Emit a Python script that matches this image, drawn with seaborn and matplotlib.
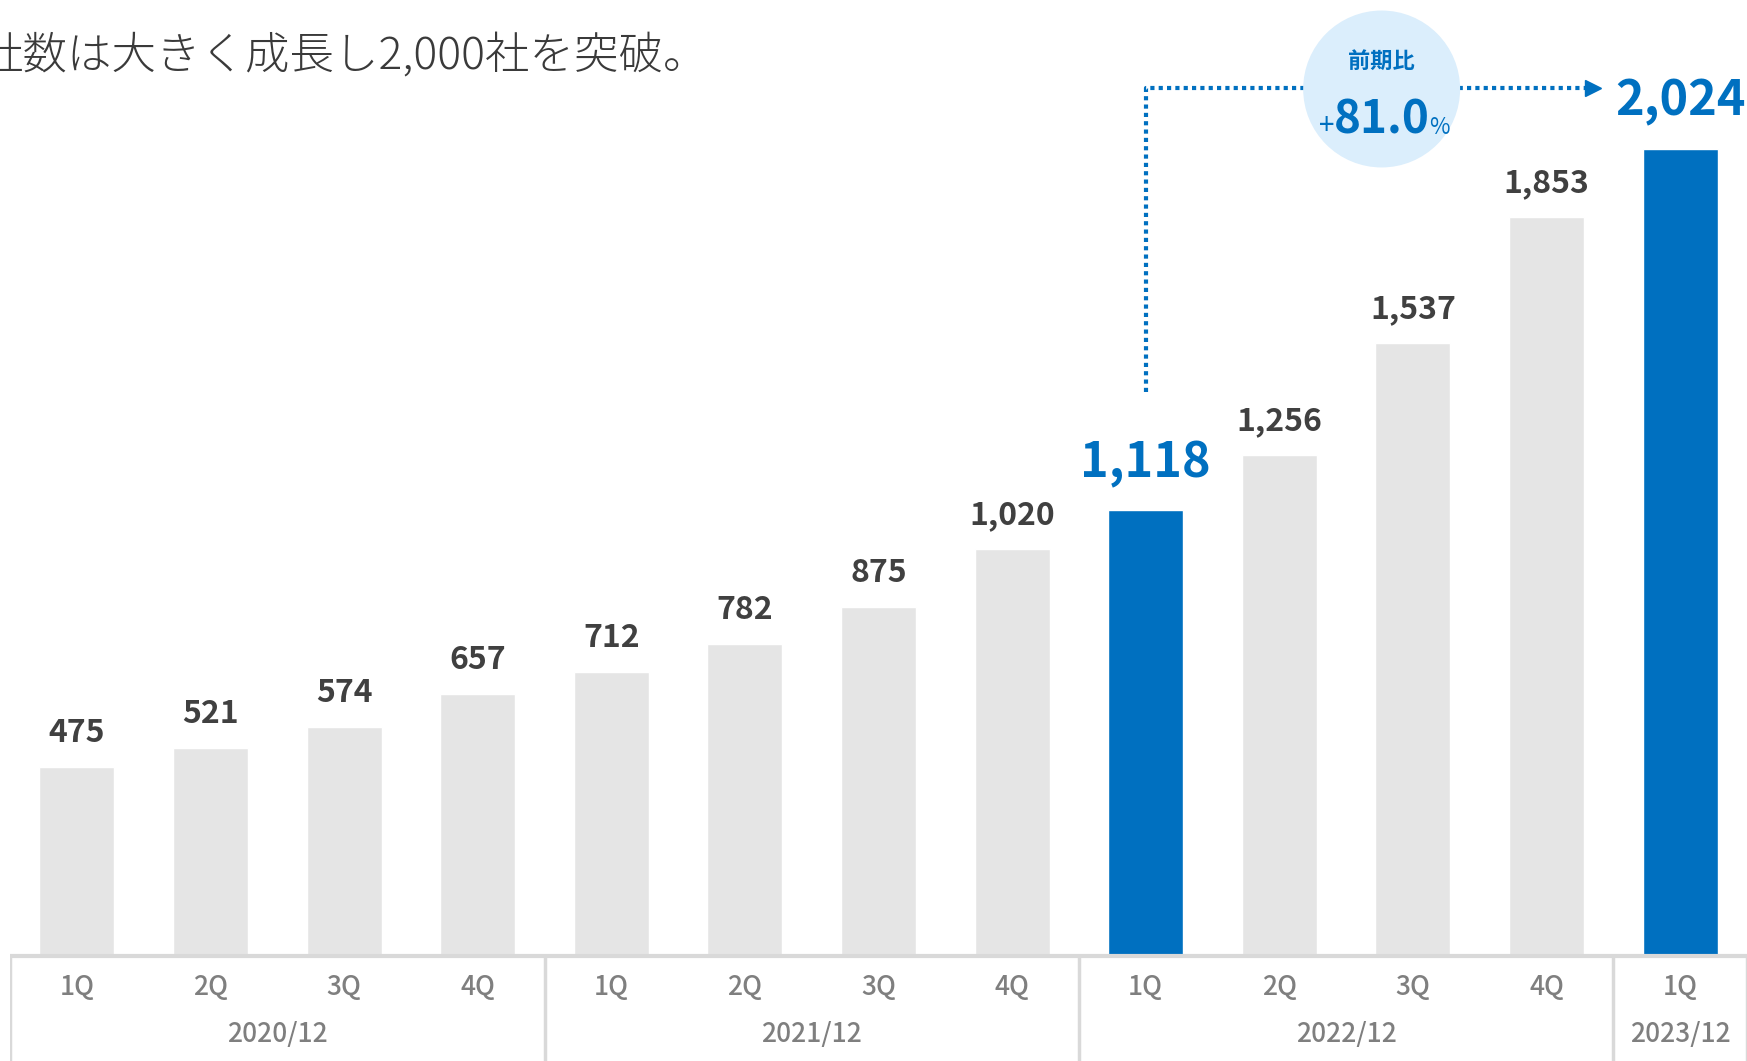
import matplotlib
matplotlib.use("Agg")
import matplotlib.pyplot as plt
import seaborn as sns
import pandas as pd

# data
years = ['2020/12'] * 4 + ['2021/12'] * 4 + ['2022/12'] * 4 + ['2023/12']
quarters = ['1Q', '2Q', '3Q', '4Q'] * 3 + ['1Q']
counts = [475, 521, 574, 657, 712, 782, 875, 1020, 1118, 1256, 1537, 1853, 2024]
highlight = [False] * 8 + [True] + [False] * 3 + [True]
title_text = '社数は大きく成長し2,000社を突破。'
growth_label = '前期比'
growth_value = '81.0'

BLUE = '#0070c0'
GRAY_BAR = '#e5e5e5'
LINE_GRAY = '#d9d9d9'

df = pd.DataFrame({'year': years, 'quarter': quarters, 'count': counts, 'hl': highlight})
df['period'] = df['year'] + ' ' + df['quarter']
palette = {p: (BLUE if h else GRAY_BAR) for p, h in zip(df['period'], df['hl'])}

sns.set_style('white')
plt.rcParams['font.family'] = ['Noto Sans CJK JP', 'DejaVu Sans']

fig = plt.figure(figsize=(17.47, 10.61), dpi=100)
W, H = 1747, 1061
ax = fig.add_axes([10.1 / W, 0, 1736.8 / W, 1])

sns.barplot(data=df, x='period', y='count', hue='period', palette=palette,
            order=list(df['period']), width=0.56, saturation=1, legend=False, ax=ax)

n = len(df)
ax.set_xlim(-0.5, n - 0.5)
ax.set_ylim(-263.4, 2397.8)
ax.axis('off')

# value labels
for i, row in df.iterrows():
    if row['hl']:
        ax.annotate(f"{row['count']:,}", (i, row['count']), xytext=(0, 24), textcoords='offset points',
                    ha='center', va='baseline', fontsize=35, fontweight='bold', color=BLUE)
    else:
        ax.annotate(f"{row['count']:,}", (i, row['count']), xytext=(0, 18), textcoords='offset points',
                    ha='center', va='baseline', fontsize=23, fontweight='bold', color='#404040')

# category axis frame (two levels)
bottom = ax.get_ylim()[0]
ax.axhline(0, color=LINE_GRAY, lw=3, zorder=3)
starts = [i for i in range(n) if i == 0 or years[i] != years[i - 1]]
for s in starts:
    ax.vlines(s - 0.5, bottom, 0, color=LINE_GRAY, lw=2.5, zorder=3)
ax.vlines(n - 0.5, bottom, 0, color=LINE_GRAY, lw=2.5, zorder=3)

for i, q in enumerate(quarters):
    ax.text(i, -80, q, ha='center', va='center', fontsize=19, fontweight='medium', color='#7f7f7f')
for k, s in enumerate(starts):
    e = starts[k + 1] if k + 1 < len(starts) else n
    ax.text((s + e - 1) / 2, -198, years[s], ha='center', va='center', fontsize=19,
            fontweight='medium', color='#7f7f7f')

# growth annotation: dotted elbow arrow and circle
i0 = df.index[df['hl']][0]
i1 = df.index[df['hl']][-1]
y_top = 2177
ax.plot([i0, i0, i1 - 0.64], [1414, y_top, y_top], color=BLUE, lw=3.0,
        linestyle=(0, (1, 1)), solid_capstyle='butt', zorder=4)
ax.plot([i1 - 0.65], [y_top], marker='>', markersize=11, color=BLUE, zorder=4)

cx = i0 + 1.766
ax.scatter([cx], [2174.6], s=113 ** 2, color='#dbeefc', edgecolors='none', zorder=5)
ax.text(cx, 2245, growth_label, ha='center', va='center', fontsize=16, fontweight='bold',
        color=BLUE, zorder=6)
ax.text(cx, 2062, growth_value, ha='center', va='baseline', fontsize=33, fontweight='bold',
        color=BLUE, zorder=6)
ax.annotate('+', (cx, 2062), xytext=(-34, 0), textcoords='offset points', ha='right',
            va='baseline', fontsize=20, color=BLUE, zorder=6)
ax.annotate('%', (cx, 2062), xytext=(34, 0), textcoords='offset points', ha='left',
            va='baseline', fontsize=16, color=BLUE, zorder=6)

# headline (cut at the left edge as in the reference)
fig.text(-21 / W, 1 - 56 / H, title_text, ha='left', va='center', fontsize=32,
         fontweight='light', color='#3a3a3a')

fig.savefig('out.png', dpi=100)
